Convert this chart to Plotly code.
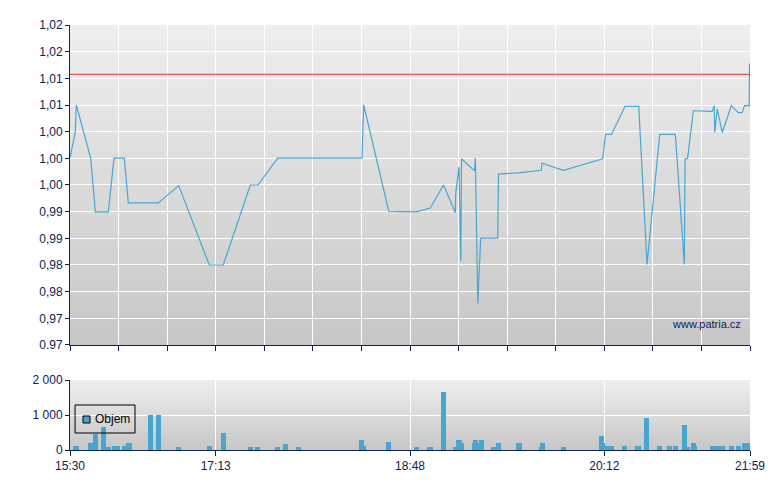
import numpy as np
import plotly.graph_objects as go
from plotly.subplots import make_subplots

# x positions are slots along the (non-linear) intraday axis, 0..140
trade_pos = [0, 1.09, 1.30, 4.26, 5.21, 7.89, 9.06, 11.18, 12.00, 18.18,
             22.38, 28.68, 31.56, 37.12, 38.71, 42.76, 60.12, 60.47, 65.62, 71.24,
             74.18, 76.90, 79.33, 79.41, 80.09, 80.46, 80.61, 83.28, 83.45, 83.96,
             84.56, 88.06, 88.22, 92.30, 97.04, 97.18, 101.57, 109.68, 110.25, 111.49,
             114.27, 117.09, 118.80, 121.41, 124.63, 126.48, 126.64, 127.14, 128.33, 132.22,
             132.63, 132.74, 133.25, 134.30, 136.15, 137.59, 138.39, 138.87, 139.84, 139.90]
price = [0.9992, 1.0033, 1.0075, 0.9992, 0.9908, 0.9908, 0.9992, 0.9992, 0.9922, 0.9922,
         0.9949, 0.9825, 0.9825, 0.9950, 0.9950, 0.9992, 0.9992, 1.0075, 0.9909, 0.9908,
         0.9914, 0.9950, 0.9907, 0.9937, 0.9978, 0.9831, 0.9991, 0.9972, 0.9992, 0.9765,
         0.9867, 0.9867, 0.9967, 0.9969, 0.9973, 0.9984, 0.9973, 0.9991, 1.0029, 1.0029,
         1.0073, 1.0073, 0.9826, 1.0029, 1.0029, 0.9826, 0.9991, 0.9991, 1.0066, 1.0065,
         1.0074, 1.0032, 1.0069, 1.0032, 1.0074, 1.0063, 1.0063, 1.0074, 1.0074, 1.0140]
prev_close = 1.0123

bar_pos = [1.24, 4.22, 5.25, 6.90, 7.93, 9.16, 9.78, 11.22, 12.15, 16.57,
           18.18, 22.34, 28.72, 31.60, 37.16, 38.60, 42.72, 44.37, 47.05, 60.02,
           60.40, 65.58, 71.34, 74.12, 76.90, 79.37, 80.09, 80.61, 83.28, 83.49,
           83.80, 84.70, 87.19, 88.22, 92.44, 97.04, 97.28, 101.60, 109.43, 109.63,
           110.77, 111.49, 114.17, 116.95, 118.70, 121.37, 123.43, 124.66, 126.52, 127.14,
           128.37, 128.60, 132.30, 133.30, 134.30, 136.20, 137.70, 138.80, 139.40]
volume = [110, 200, 460, 650, 90, 110, 110, 110, 200, 1000,
          1000, 90, 110, 490, 90, 90, 90, 170, 90, 290,
          110, 230, 90, 90, 1650, 90, 290, 200, 200, 290,
          200, 290, 90, 200, 200, 90, 200, 90, 400, 200,
          110, 110, 110, 110, 910, 110, 110, 110, 710, 90,
          200, 110, 110, 110, 110, 110, 110, 200, 200]

time_tick_pos = [0, 30, 70, 110, 140]
time_labels = ["15:30", "17:13", "18:48", "20:12", "21:59"]
price_labels = ["0.97", "0,97", "0,98", "0,98", "0,99", "0,99", "1,00",
                "1,00", "1,00", "1,01", "1,01", "1,02", "1,02"]
vol_ticks = [0, 1000, 2000]
vol_labels = ["0", "1 000", "2 000"]

navy = "#0c2352"
blue = "#4aa6d0"
bar_blue = "#48a5cf"
font_family = "Liberation Sans, Arial, sans-serif"

fig = make_subplots(rows=2, cols=1)

fig.add_trace(go.Scatter(x=trade_pos, y=price, mode="lines",
                         line=dict(color=blue, width=1.2), showlegend=False,
                         hoverinfo="skip"), row=1, col=1)
fig.add_trace(go.Bar(x=bar_pos, y=volume, width=1.07, marker_color=bar_blue,
                     marker_line_width=0, showlegend=False), row=2, col=1)

fig.add_hline(y=prev_close, line_color="#e03535", line_width=1, row=1, col=1)


# grey vertical gradient behind each plot area
def gradient(xref, yref, n=40, top=(239, 239, 239), bottom=(199, 199, 199)):
    for i in range(n):
        t = (i + 0.5) / n
        c = [int(round(b + (a - b) * t)) for a, b in zip(top, bottom)]
        fig.add_shape(type="rect", xref=xref, yref=yref, x0=0, x1=1,
                      y0=i / n, y1=min(1, (i + 1) / n + 0.003),
                      fillcolor="rgb(%d,%d,%d)" % tuple(c), line_width=0, layer="below")


gradient("x domain", "y domain")
gradient("x2 domain", "y2 domain", n=20)

axis_font = dict(family=font_family, size=12, color=navy)

fig.update_xaxes(range=[0, 140], tickvals=list(range(0, 141, 10)), ticktext=[""] * 15,
                 ticks="outside", ticklen=5, tickcolor=navy, showline=True, linecolor=navy,
                 gridcolor="white", gridwidth=1, zeroline=False, automargin=False, row=1, col=1)
fig.update_yaxes(range=[0.97, 1.02], tickvals=np.linspace(0.97, 1.02, 13), ticktext=price_labels,
                 ticks="outside", ticklen=4, tickcolor=navy, showline=True, linecolor=navy,
                 gridcolor="white", gridwidth=1, zeroline=False, tickfont=axis_font,
                 automargin=False, domain=[0.2471, 1], row=1, col=1)
fig.update_xaxes(range=[0, 140], tickvals=time_tick_pos, ticktext=time_labels,
                 ticks="outside", ticklen=5, tickcolor=navy, showline=True, linecolor=navy,
                 gridcolor="white", gridwidth=1, zeroline=False, tickfont=axis_font,
                 automargin=False, row=2, col=1)
fig.update_yaxes(range=[0, 2000], tickvals=vol_ticks, ticktext=vol_labels,
                 ticks="outside", ticklen=4, tickcolor=navy, showline=True, linecolor=navy,
                 gridcolor="white", gridwidth=1, zeroline=False, tickfont=axis_font,
                 automargin=False, domain=[0, 0.1647], row=2, col=1)

fig.add_annotation(text="www.patria.cz", xref="paper", yref="paper", x=0.9897, y=0.2976,
                   xanchor="right", yanchor="middle", showarrow=False,
                   font=dict(family=font_family, size=11, color=navy))

# legend box for the volume series
fig.add_shape(type="rect", xref="paper", yref="paper", x0=0.0074, x1=0.0956,
              y0=0.040, y1=0.1059, line=dict(color="black", width=1),
              fillcolor="rgba(0,0,0,0)")
fig.add_shape(type="rect", xref="paper", yref="paper", x0=0.0191, x1=0.0294,
              y0=0.0635, y1=0.080, line=dict(color="black", width=1), fillcolor=bar_blue)
fig.add_annotation(text="Objem", xref="paper", yref="paper", x=0.0345, y=0.0718,
                   xanchor="left", yanchor="middle", showarrow=False,
                   font=dict(family=font_family, size=12, color="black"))

# page body has an 8px margin, so the figure is 8px smaller and margins shifted
fig.update_layout(width=772, height=482, margin=dict(l=62, r=30, t=17, b=40),
                  paper_bgcolor="white", plot_bgcolor="#c7c7c7", bargap=0,
                  barmode="overlay", hovermode=False, showlegend=False)

fig.write_html("out.html")
